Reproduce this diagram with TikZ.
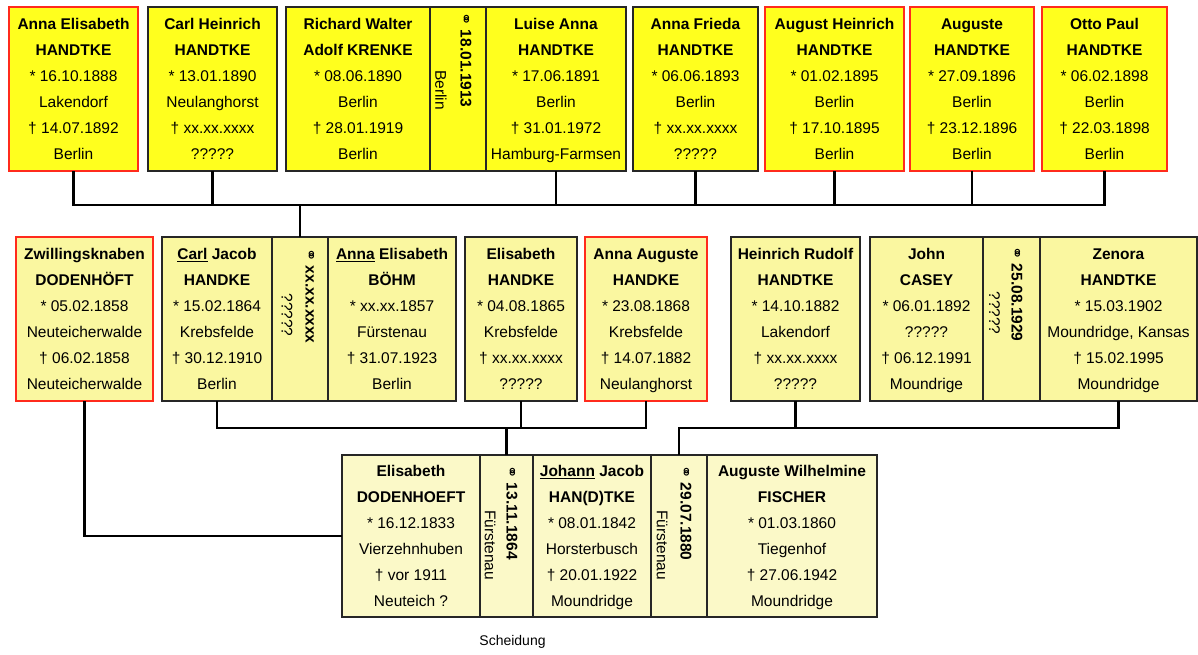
\documentclass[tikz,border=0pt]{standalone}
\usepackage{fontspec}
\setmainfont{Liberation Sans}
\newfontfamily\symfont{DejaVu Sans}
\usepackage{tikz}
\usetikzlibrary{positioning}
\definecolor{gold}{HTML}{FFFF1E}
\definecolor{straw}{HTML}{FAF7A0}
\definecolor{cream}{HTML}{FBF9C8}
\definecolor{frame}{HTML}{262626}
\definecolor{scarlet}{HTML}{FF2B1C}
\newcommand{\wring}{{\symfont\mdseries\fontsize{16}{16}\selectfont ⚭}}
\tikzset{
  person/.style={rectangle, draw=frame, line width=1.4pt, outer sep=0pt, inner sep=0pt,
                 align=center, minimum height=164pt, font=\fontsize{15.5}{26}\selectfont,
                 text depth=0pt},
  gen1/.style={person, fill=gold},
  gen2/.style={person, fill=straw},
  gen3/.style={person, fill=cream, minimum height=162pt},
  early/.style={draw=scarlet, line width=1.8pt},
  wdate/.style={rotate=-90, anchor=west, inner sep=0pt, font=\fontsize{15.5}{15}\selectfont\bfseries},
  wplace/.style={rotate=-90, inner sep=0pt, font=\fontsize{15.5}{15}\selectfont},
  note/.style={inner sep=0pt, font=\fontsize{14}{14}\selectfont},
  kin/.style={line width=2.6pt, draw=black},
}

\begin{document}
\begin{tikzpicture}[x=1pt, y=-1pt]
  \useasboundingbox (0,0) rectangle (1198,654);
  \coordinate (bus1) at (0,205);
  \coordinate (bus2) at (0,428);

  % children of the 1880s/90s
  \node[gen1, early, minimum width=129pt] (annaelis) at (73.5,89)
    {\textbf{Anna Elisabeth}\\\textbf{HANDTKE}\\* 16.10.1888\\Lakendorf\\† 14.07.1892\\Berlin};
  \node[gen1, minimum width=129pt, right=10pt of annaelis] (carlheinr)
    {\textbf{Carl Heinrich}\\\textbf{HANDTKE}\\* 13.01.1890\\Neulanghorst\\† xx.xx.xxxx\\?????};
  \node[gen1, minimum width=144pt, right=9pt of carlheinr] (richard)
    {\textbf{Richard Walter}\\\textbf{Adolf KRENKE}\\* 08.06.1890\\Berlin\\† 28.01.1919\\Berlin};
  \node[gen1, minimum width=56pt, right=0pt of richard] (wedluise) {};
  \node[gen1, minimum width=140pt, right=0pt of wedluise] (luise)
    {\textbf{Luise Anna}\\\textbf{HANDTKE}\\* 17.06.1891\\Berlin\\† 31.01.1972\\Hamburg-Farmsen};
  \node[gen1, minimum width=125pt, right=7pt of luise] (frieda)
    {\textbf{Anna Frieda}\\\textbf{HANDTKE}\\* 06.06.1893\\Berlin\\† xx.xx.xxxx\\?????};
  \node[gen1, early, minimum width=139pt, right=7pt of frieda] (augheinr)
    {\textbf{August Heinrich}\\\textbf{HANDTKE}\\* 01.02.1895\\Berlin\\† 17.10.1895\\Berlin};
  \node[gen1, early, minimum width=124pt, right=6pt of augheinr] (auguste)
    {\textbf{Auguste}\\\textbf{HANDTKE}\\* 27.09.1896\\Berlin\\† 23.12.1896\\Berlin};
  \node[gen1, early, minimum width=125pt, right=8pt of auguste] (otto)
    {\textbf{Otto Paul}\\\textbf{HANDTKE}\\* 06.02.1898\\Berlin\\† 22.03.1898\\Berlin};
  \node[wdate] at ([xshift=-20pt, yshift=-5pt]wedluise.north east) {\wring\ 18.01.1913};
  \node[wplace] at ([xshift=-17pt, yshift=-1pt]wedluise.center) {Berlin};

  % children of Johann Jacob
  \node[gen2, early, minimum width=137pt] (twins) at (84.5,319)
    {\textbf{Zwillingsknaben}\\\textbf{DODENHÖFT}\\* 05.02.1858\\Neuteicherwalde\\† 06.02.1858\\Neuteicherwalde};
  \node[gen2, minimum width=110pt, right=9pt of twins] (carljac)
    {\textbf{\underline{Carl} Jacob}\\\textbf{HANDKE}\\* 15.02.1864\\Krebsfelde\\† 30.12.1910\\Berlin};
  \node[gen2, minimum width=56pt, right=0pt of carljac] (wedcarl) {};
  \node[gen2, minimum width=128pt, right=0pt of wedcarl] (boehm)
    {\textbf{\underline{Anna} Elisabeth}\\\textbf{BÖHM}\\* xx.xx.1857\\Fürstenau\\† 31.07.1923\\Berlin};
  \node[gen2, minimum width=112pt, right=9pt of boehm] (elisab)
    {\textbf{Elisabeth}\\\textbf{HANDKE}\\* 04.08.1865\\Krebsfelde\\† xx.xx.xxxx\\?????};
  \node[gen2, early, minimum width=122pt, right=8pt of elisab] (annaaug)
    {\textbf{Anna Auguste}\\\textbf{HANDKE}\\* 23.08.1868\\Krebsfelde\\† 14.07.1882\\Neulanghorst};
  \node[gen2, minimum width=129pt, right=24pt of annaaug] (heinrich)
    {\textbf{Heinrich Rudolf}\\\textbf{HANDTKE}\\* 14.10.1882\\Lakendorf\\† xx.xx.xxxx\\?????};
  \node[gen2, minimum width=113pt, right=10pt of heinrich] (casey)
    {\textbf{John}\\\textbf{CASEY}\\* 06.01.1892\\?????\\† 06.12.1991\\Moundrige};
  \node[gen2, minimum width=57pt, right=0pt of casey] (wedzenora) {};
  \node[gen2, minimum width=157pt, right=0pt of wedzenora] (zenora)
    {\textbf{Zenora}\\\textbf{HANDTKE}\\* 15.03.1902\\Moundridge, Kansas\\† 15.02.1995\\Moundridge};
  \node[wdate] at ([xshift=-18pt, yshift=-11pt]wedcarl.north east) {\wring\ xx.xx.xxxx};
  \node[wplace] at ([xshift=-13pt, yshift=4pt]wedcarl.center) {?????};
  \node[wdate] at ([xshift=-23pt, yshift=-9pt]wedzenora.north east) {\wring\ 25.08.1929};
  \node[wplace] at ([xshift=-17pt, yshift=6pt]wedzenora.center) {?????};

  % Johann Jacob and his two wives
  \node[gen3, minimum width=138pt] (dodenhoeft) at (411,536)
    {\textbf{Elisabeth}\\\textbf{DODENHOEFT}\\* 16.12.1833\\Vierzehnhuben\\† vor 1911\\Neuteich ?};
  \node[gen3, minimum width=53pt, right=0pt of dodenhoeft] (wedfirst) {};
  \node[gen3, minimum width=118pt, right=0pt of wedfirst] (johann)
    {\textbf{\underline{Johann} Jacob}\\\textbf{HAN(D)TKE}\\* 08.01.1842\\Horsterbusch\\† 20.01.1922\\Moundridge};
  \node[gen3, minimum width=56pt, right=0pt of johann] (wedsecond) {};
  \node[gen3, minimum width=170pt, right=0pt of wedsecond] (fischer)
    {\textbf{Auguste Wilhelmine}\\\textbf{FISCHER}\\* 01.03.1860\\Tiegenhof\\† 27.06.1942\\Moundridge};
  \node[wdate] at ([xshift=-21pt, yshift=-10pt]wedfirst.north east) {\wring\ 13.11.1864};
  \node[wplace] at ([xshift=-16.5pt, yshift=-9pt]wedfirst.center) {Fürstenau};
  \node[wdate] at ([xshift=-21pt, yshift=-10pt]wedsecond.north east) {\wring\ 29.07.1880};
  \node[wplace] at ([xshift=-17pt, yshift=-9pt]wedsecond.center) {Fürstenau};
  \node[note, below=18pt of wedfirst, xshift=6pt] (divorce) {Scheidung};

  \draw[kin] (annaelis.south) |- (bus1 -| otto.south) -- (otto.south);
  \foreach \kid in {carlheinr, luise, frieda, augheinr, auguste}
    \draw[kin] (\kid.south) -- (\kid.south |- bus1);
  \draw[kin] (wedcarl.north) -- (wedcarl.north |- bus1);

  \draw[kin] (carljac.south) |- (bus2 -| annaaug.south) -- (annaaug.south);
  \draw[kin] (elisab.south) -- (elisab.south |- bus2);
  \draw[kin] (wedfirst.north) -- (wedfirst.north |- bus2);
  \draw[kin] (wedsecond.north) |- (bus2 -| zenora.south) -- (zenora.south);
  \draw[kin] (heinrich.south) -- (heinrich.south |- bus2);
  \draw[kin] (twins.south) |- (dodenhoeft.west);
\end{tikzpicture}
\end{document}
